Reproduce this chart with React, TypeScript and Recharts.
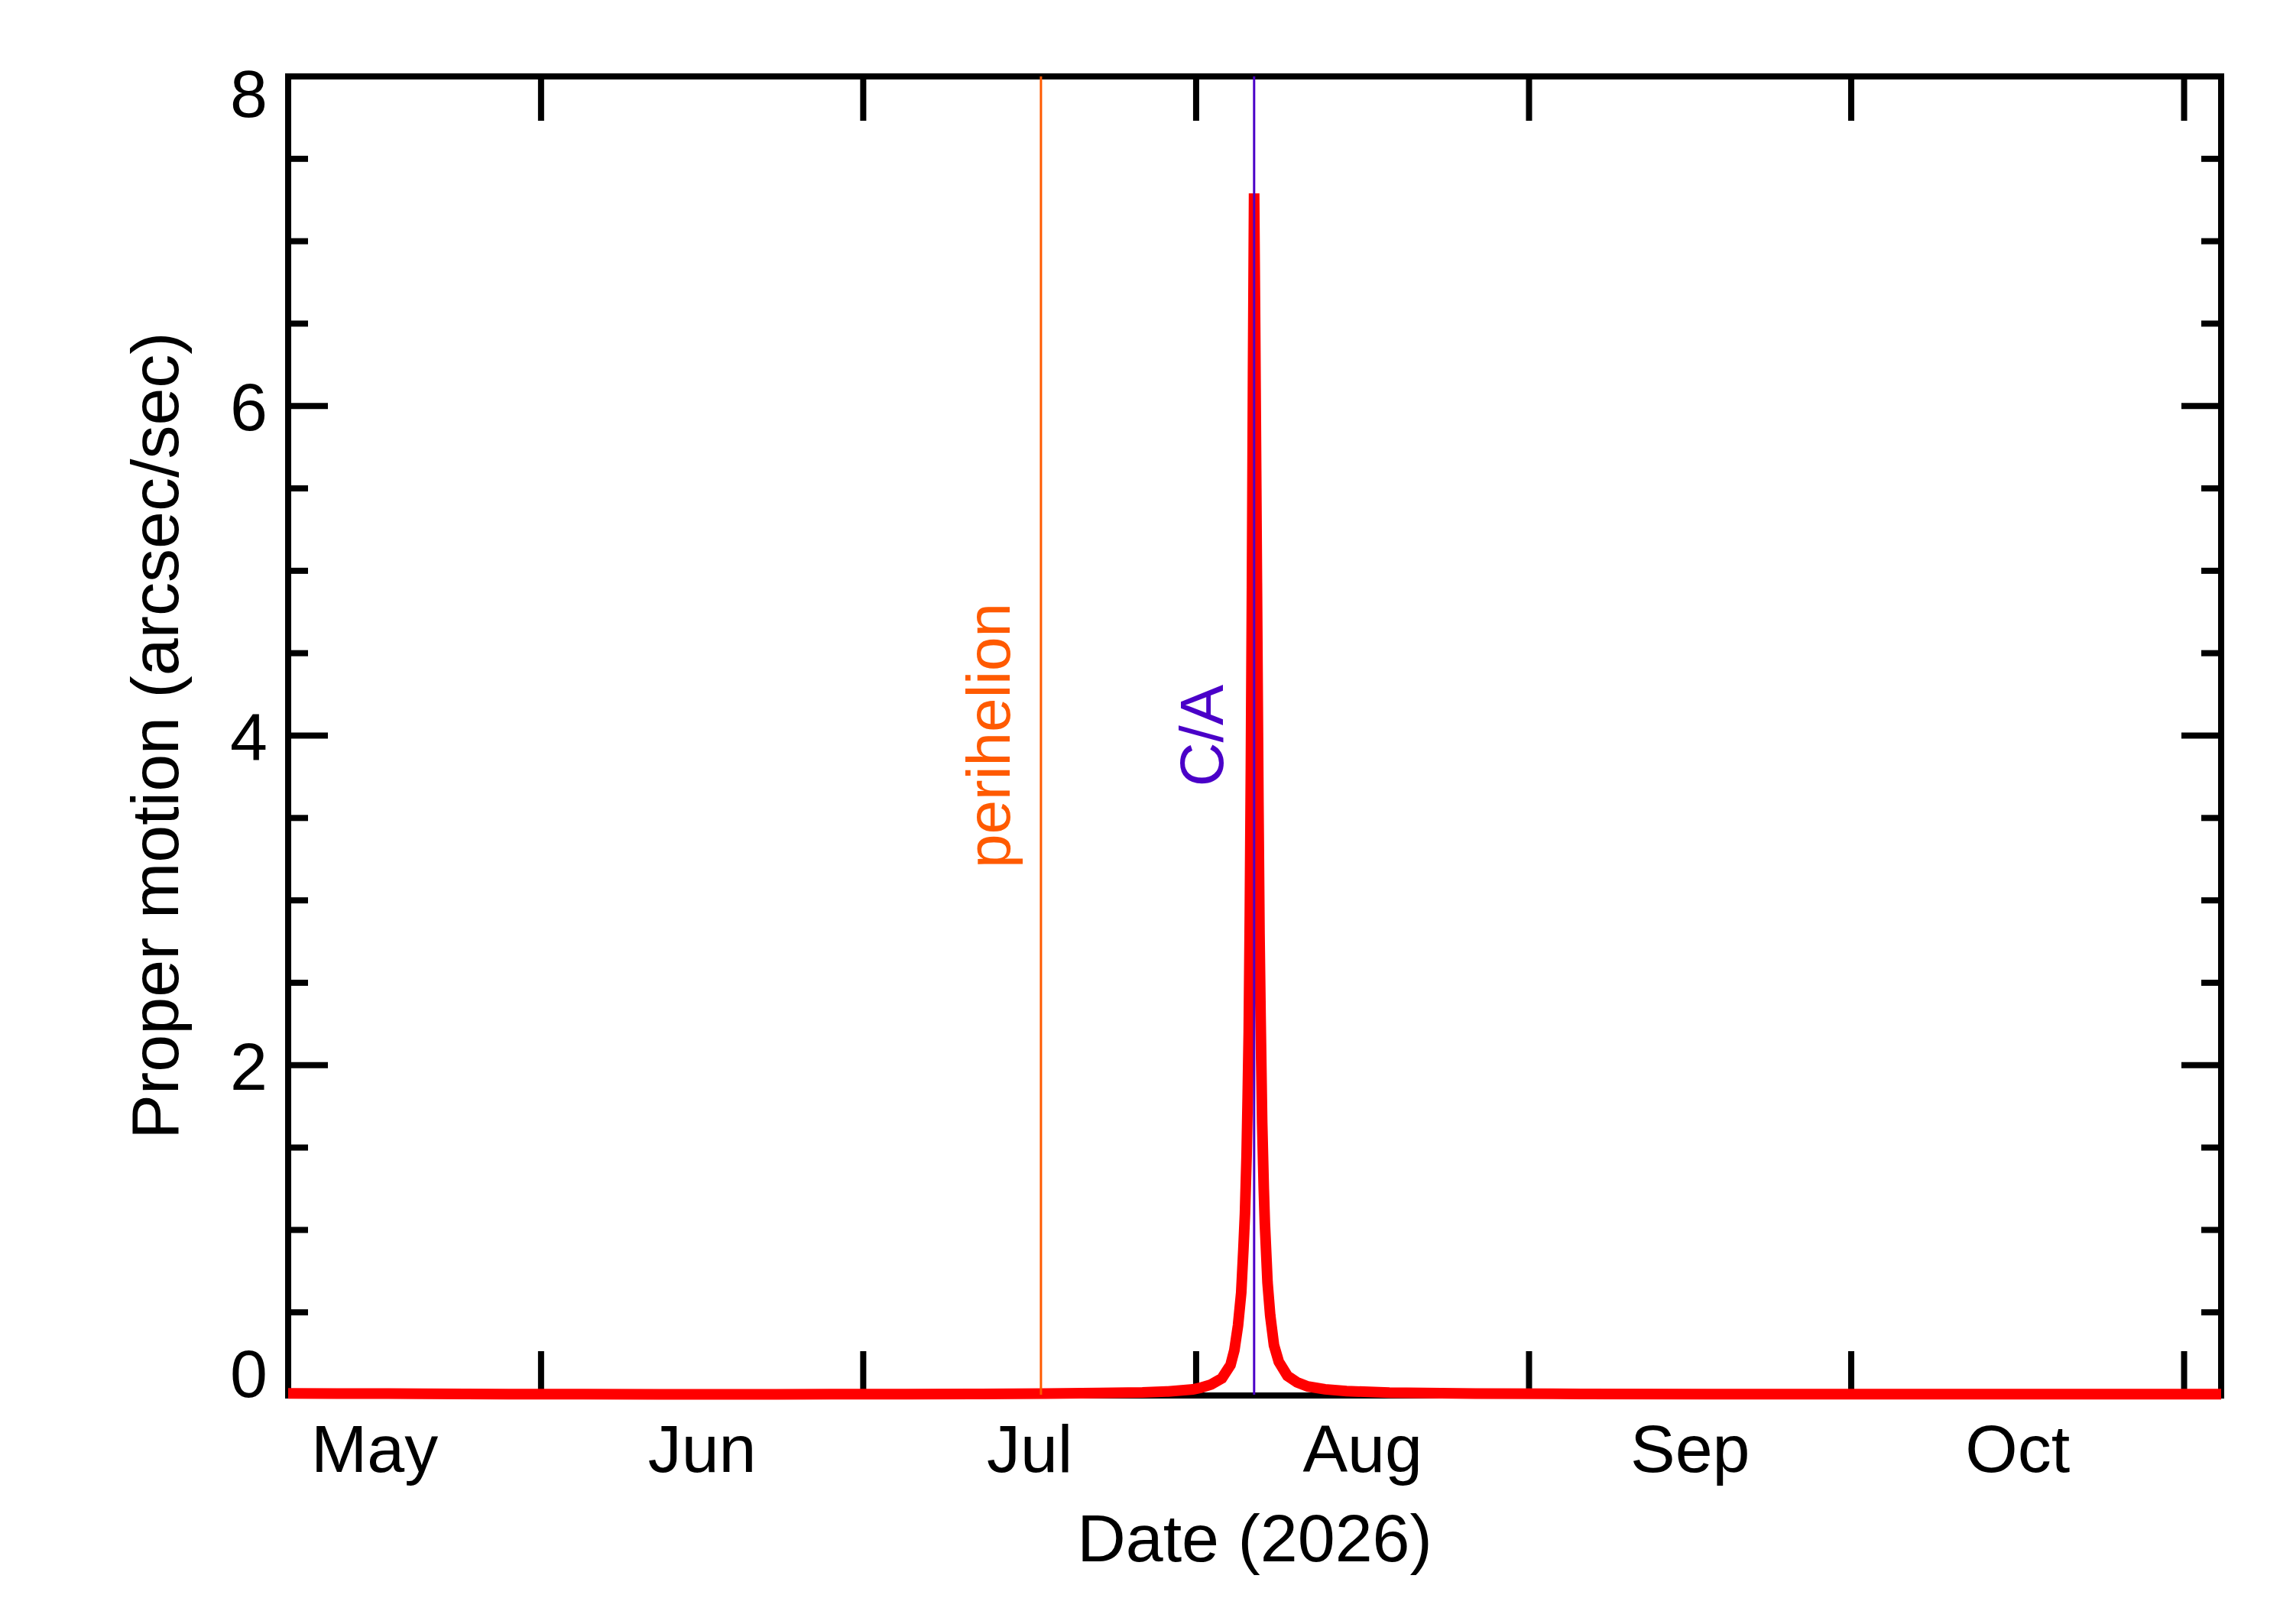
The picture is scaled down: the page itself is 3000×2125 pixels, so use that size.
import { LineChart, Line, XAxis, YAxis, ReferenceLine } from 'recharts';

const FONT = '"Liberation Sans", Arial, Helvetica, sans-serif';

// x = days since 2026-05-01 00:00
const days = [
  7.45, 12, 20, 28, 35, 42, 50, 58, 65, 72, 78, 83, 87, 89.4,
  91.7, 92.4, 93.4, 94.4, 95.2, 95.56, 95.9, 96.2, 96.4, 96.55, 96.7, 96.8, 96.9,
  97.0, 97.1, 97.2, 97.3, 97.4, 97.5, 97.6, 97.7, 97.8, 97.9, 98.0, 98.15, 98.3, 98.4,
  98.65, 98.9, 99.25, 99.7, 100.5, 101.4, 102.4, 104, 106, 110, 118, 128, 140, 152,
  165, 177, 187.45,
];
const motion = [
  0.008, 0.007, 0.006, 0.004, 0.003, 0.002, 0.002, 0.003, 0.004, 0.005, 0.007, 0.01, 0.014, 0.02,
  0.032, 0.042, 0.062, 0.1, 0.18, 0.27, 0.42, 0.62, 0.88, 1.1, 1.45, 1.8, 2.2,
  2.9, 3.8, 4.9, 6.2, 7.29, 6.45, 5.5, 4.55, 3.6, 2.8, 2.3, 1.65, 1.25, 1.04,
  0.68, 0.48, 0.3, 0.2, 0.115, 0.075, 0.05, 0.033, 0.022, 0.013, 0.007, 0.005, 0.004, 0.003,
  0.003, 0.003, 0.003,
];

const perihelionDay = 77.55;
const closeApproachDay = 97.4;

const monthStarts = [31, 61, 92, 123, 153, 184];
const monthMids = [15.5, 46, 76.5, 107.5, 138, 168.5];
const monthNames = ['May', 'Jun', 'Jul', 'Aug', 'Sep', 'Oct'];
const yMajor = [0, 2, 4, 6, 8];
const yMinor = [0.5, 1, 1.5, 2.5, 3, 3.5, 4.5, 5, 5.5, 6.5, 7, 7.5];

const data = days.map((d, i) => ({ day: d, pm: motion[i] }));

const X_DOMAIN: [number, number] = [7.45, 187.45];
const Y_DOMAIN: [number, number] = [0, 8];
const frame = { stroke: '#000', strokeWidth: 8, strokeLinecap: 'square' as const };
const tickStroke = { stroke: '#000', strokeWidth: 8 };

const NoLabel = () => <g />;

const YTick = (props: any) => {
  const { x, y, payload } = props;
  const v = payload.value;
  const dy = v === 0 ? 3 : v === 8 ? 53 : 32;
  return (
    <text x={x} y={y + dy} textAnchor="end" fontSize={88} fill="#000" fontFamily={FONT}>
      {v}
    </text>
  );
};

const MonthTick = (props: any) => {
  const { x, y, payload } = props;
  const idx = monthMids.indexOf(payload.value);
  return (
    <text x={x} y={y + 101} textAnchor="middle" fontSize={88} fill="#000" fontFamily={FONT}>
      {monthNames[idx]}
    </text>
  );
};

const VerticalNote = ({ viewBox, text, color }: any) => {
  if (!viewBox) return null;
  const cx = viewBox.x - 41;
  const cy = viewBox.y + viewBox.height / 2;
  return (
    <text x={cx} y={cy} transform={`rotate(-90 ${cx} ${cy})`} textAnchor="middle" fontSize={80} fill={color} fontFamily={FONT}>
      {text}
    </text>
  );
};

const YTitle = ({ viewBox }: any) => {
  if (!viewBox) return null;
  const cx = viewBox.x + viewBox.width - 144;
  const cy = viewBox.y + viewBox.height / 2;
  return (
    <text x={cx} y={cy} transform={`rotate(-90 ${cx} ${cy})`} textAnchor="middle" fontSize={88} fill="#000" fontFamily={FONT}>
      Proper motion (arcsec/sec)
    </text>
  );
};

const XTitle = ({ viewBox }: any) => {
  if (!viewBox) return null;
  return (
    <text x={viewBox.x + viewBox.width / 2} y={viewBox.y + 217} textAnchor="middle" fontSize={88} fill="#000" fontFamily={FONT}>
      Date (2026)
    </text>
  );
};

export default function App() {
  return (
    <div style={{ position: 'absolute', left: 0, top: 0, width: 3000, height: 2125, background: '#fff' }}>
      <LineChart width={3000} height={2125} data={data} margin={{ top: 99, right: 92, bottom: 298, left: 375 }}>
        <XAxis xAxisId="x" type="number" dataKey="day" domain={X_DOMAIN} ticks={monthStarts} interval={0}
          height={1} tickSize={-58} tick={<NoLabel />} tickLine={tickStroke} axisLine={frame}
          label={<XTitle />} />
        <XAxis xAxisId="lbl" type="number" dataKey="day" domain={X_DOMAIN} ticks={monthMids} interval={0}
          height={1} tickSize={0} tickMargin={0} tickLine={false} axisLine={false} tick={<MonthTick />} />
        <XAxis xAxisId="top" orientation="top" type="number" dataKey="day" domain={X_DOMAIN} ticks={monthStarts}
          interval={0} height={1} tickSize={-58} tick={<NoLabel />} tickLine={tickStroke} axisLine={frame} />
        <YAxis yAxisId="y" type="number" dataKey="pm" domain={Y_DOMAIN} ticks={yMajor} interval={0} width={1}
          tickSize={-52} tickMargin={79} tickLine={tickStroke} axisLine={frame} tick={<YTick />}
          label={<YTitle />} />
        <YAxis yAxisId="yMinor" type="number" dataKey="pm" domain={Y_DOMAIN} ticks={yMinor} interval={0} width={1}
          tickSize={-27} tick={<NoLabel />} tickLine={tickStroke} axisLine={false} />
        <YAxis yAxisId="right" orientation="right" type="number" dataKey="pm" domain={Y_DOMAIN} ticks={yMajor}
          interval={0} width={1} tickSize={-52} tick={<NoLabel />} tickLine={tickStroke} axisLine={frame} />
        <YAxis yAxisId="rightMinor" orientation="right" type="number" dataKey="pm" domain={Y_DOMAIN} ticks={yMinor}
          interval={0} width={1} tickSize={-27} tick={<NoLabel />} tickLine={tickStroke} axisLine={false} />
        <Line xAxisId="x" yAxisId="y" type="linear" dataKey="pm" stroke="#FF0000" strokeWidth={14}
          dot={false} activeDot={false} isAnimationActive={false} zIndex={600} />
        <ReferenceLine xAxisId="x" yAxisId="y" x={perihelionDay} stroke="#FF5A00" strokeWidth={3} zIndex={700}
          label={<VerticalNote text="perihelion" color="#FF5A00" />} />
        <ReferenceLine xAxisId="x" yAxisId="y" x={closeApproachDay} stroke="#4A00C8" strokeWidth={3} zIndex={700}
          label={<VerticalNote text="C/A" color="#4A00C8" />} />
      </LineChart>
    </div>
  );
}
